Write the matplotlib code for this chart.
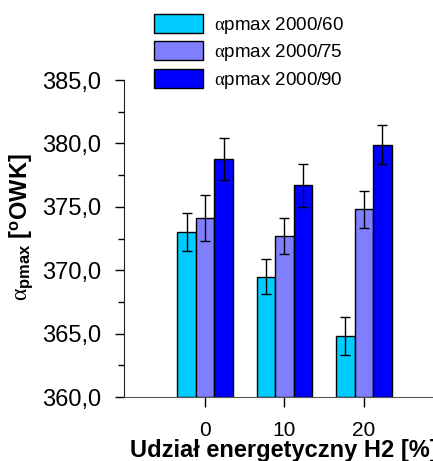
import matplotlib
matplotlib.use("Agg")
import matplotlib.pyplot as plt
import numpy as np
from matplotlib.ticker import MultipleLocator, FuncFormatter

plt.rcParams['font.family'] = ['Liberation Sans', 'DejaVu Sans']
plt.rcParams['mathtext.fontset'] = 'custom'
plt.rcParams['mathtext.rm'] = 'Liberation Serif'
plt.rcParams['mathtext.it'] = 'Liberation Serif:italic'
plt.rcParams['mathtext.bf'] = 'Liberation Sans:bold'
plt.rcParams['mathtext.sf'] = 'Liberation Sans'

categories = [0, 10, 20]
series_names = [r'$\mathrm{\alpha}$pmax 2000/60', r'$\mathrm{\alpha}$pmax 2000/75',
                r'$\mathrm{\alpha}$pmax 2000/90']
values_60 = [373.0, 369.5, 364.8]
values_75 = [374.1, 372.7, 374.8]
values_90 = [378.8, 376.7, 379.9]
err_60 = [1.5, 1.4, 1.5]
err_75 = [1.8, 1.4, 1.45]
err_90 = [1.65, 1.7, 1.55]
colors = ['#00CCFF', '#8080FF', '#0000FF']

fig = plt.figure(figsize=(4.33, 4.61), dpi=100)
ax = fig.add_axes([124/433, 64/461, 1 - 124/433, 317/461])

w = 2.33
x = np.array(categories, dtype=float)
handles = []
for i, (vals, errs, c, name) in enumerate(zip([values_60, values_75, values_90],
                                             [err_60, err_75, err_90], colors, series_names)):
    h = ax.bar(x + (i - 1) * w, np.array(vals) - 360, width=w, bottom=360, color=c,
               edgecolor='black', linewidth=1.0, label=name, zorder=2)
    ax.errorbar(x + (i - 1) * w, vals, yerr=errs, fmt='none', ecolor='black',
                elinewidth=1.0, capsize=3.6, capthick=1.0, zorder=3)
    handles.append(h)

ax.set_ylim(360, 385)
ax.set_xlim(-10.2, 28.7)
ax.yaxis.set_major_locator(MultipleLocator(5))
ax.yaxis.set_minor_locator(MultipleLocator(2.5))
ax.yaxis.set_major_formatter(FuncFormatter(lambda v, p: f"{v:.1f}".replace('.', ',')))
ax.set_xticks(categories)
ax.set_xticklabels([str(c) for c in categories])
ax.spines['top'].set_visible(False)
ax.spines['right'].set_visible(False)
ax.spines['left'].set_color('#222222')
ax.spines['bottom'].set_color('#555555')
ax.tick_params(axis='y', which='major', direction='out', length=6.5, width=1, labelsize=17, pad=10)
ax.tick_params(axis='y', which='minor', direction='out', length=4, width=1)
ax.tick_params(axis='x', which='major', direction='out', length=7, width=1, labelsize=15, pad=10)

fig.text(130/433, 4/461, 'Udział energetyczny H2 [%]', fontsize=17, fontweight='bold',
         ha='left', va='baseline')
ax.set_ylabel(r'$\mathrm{\alpha}_{\mathbf{pmax}}$ [$^{\mathbf{o}}$OWK]', fontsize=17, fontweight='bold')
ax.yaxis.set_label_coords(-0.288, 0.535)

leg = fig.legend(handles=handles, labels=series_names,
                 loc='upper left', bbox_to_anchor=(154/433, 1 - 14/461), frameon=False,
                 fontsize=13.5, handlelength=2.6, handleheight=1.17, labelspacing=0.3,
                 handletextpad=0.6, borderaxespad=0, borderpad=0)

fig.savefig('out.png', dpi=100)
